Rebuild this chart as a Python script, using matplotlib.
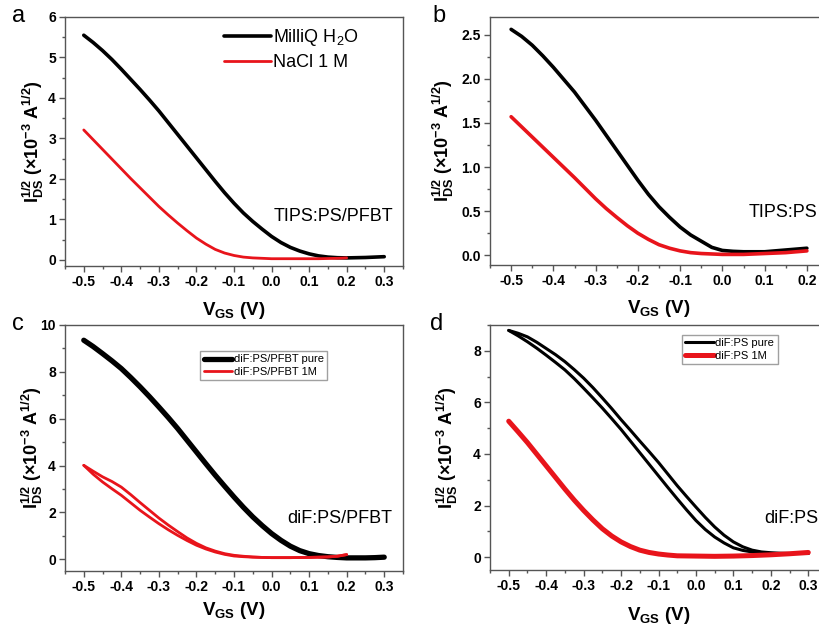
import matplotlib
matplotlib.use("Agg")
import matplotlib.pyplot as plt
import numpy as np
from matplotlib.ticker import MultipleLocator

# ---- data (V_GS in V, sqrt(I_DS) in 1e-3 A^1/2) ----
# gate sweeps in 25 mV steps
vgs_03 = np.round(np.arange(-0.5, 0.3001, 0.025), 3)   # -0.5 ... 0.3
vgs_02 = np.round(np.arange(-0.5, 0.2001, 0.025), 3)   # -0.5 ... 0.2

a_water = [5.55, 5.37, 5.17, 4.95, 4.71, 4.46, 4.21, 3.95, 3.68, 3.39,
           3.10, 2.81, 2.52, 2.23, 1.94, 1.66, 1.40, 1.16, 0.95, 0.76,
           0.58, 0.43, 0.31, 0.22, 0.15, 0.10, 0.07, 0.055, 0.05, 0.055,
           0.06, 0.07, 0.08]
a_nacl = [3.21, 2.97, 2.73, 2.49, 2.25, 2.01, 1.78, 1.55, 1.32, 1.11,
          0.91, 0.72, 0.54, 0.39, 0.26, 0.17, 0.11, 0.07, 0.05, 0.04,
          0.03, 0.03, 0.03, 0.03, 0.03, 0.03, 0.035, 0.04, 0.05]

b_water = [2.56, 2.48, 2.38, 2.26, 2.13, 1.99, 1.85, 1.69, 1.53, 1.36,
           1.19, 1.02, 0.85, 0.69, 0.55, 0.43, 0.32, 0.23, 0.16, 0.09,
           0.055, 0.045, 0.04, 0.04, 0.04, 0.05, 0.06, 0.07, 0.08]
b_nacl = [1.57, 1.455, 1.34, 1.225, 1.11, 0.995, 0.88, 0.76, 0.64, 0.53,
          0.43, 0.335, 0.25, 0.18, 0.12, 0.08, 0.05, 0.03, 0.02, 0.015,
          0.01, 0.01, 0.01, 0.015, 0.02, 0.025, 0.03, 0.04, 0.05]

c_pure = [9.35, 9.08, 8.78, 8.47, 8.14, 7.76, 7.36, 6.94, 6.50, 6.05,
          5.58, 5.08, 4.58, 4.08, 3.59, 3.12, 2.66, 2.22, 1.81, 1.44,
          1.10, 0.81, 0.56, 0.37, 0.24, 0.16, 0.11, 0.08, 0.06, 0.06,
          0.06, 0.07, 0.09]
c_1m_fwd = [4.01, 3.76, 3.52, 3.32, 3.08, 2.76, 2.42, 2.09, 1.76, 1.46,
            1.18, 0.91, 0.68, 0.49, 0.35, 0.24, 0.17, 0.13, 0.10, 0.08,
            0.07, 0.07, 0.07, 0.075, 0.08, 0.09, 0.10, 0.13, 0.20]
c_1m_rev = [4.01, 3.63, 3.30, 3.01, 2.73, 2.41, 2.09, 1.80, 1.52, 1.26,
            1.02, 0.80, 0.60, 0.44, 0.31, 0.21, 0.14, 0.11, 0.09, 0.08,
            0.07, 0.07, 0.07, 0.075, 0.08, 0.09, 0.10, 0.13, 0.20]

d_pure_fwd = [8.79, 8.68, 8.54, 8.33, 8.09, 7.85, 7.58, 7.27, 6.94, 6.57,
              6.17, 5.76, 5.33, 4.92, 4.50, 4.09, 3.67, 3.22, 2.77, 2.35,
              1.94, 1.54, 1.17, 0.85, 0.59, 0.40, 0.27, 0.20, 0.17, 0.15,
              0.14, 0.14, 0.14]
d_pure_rev = [8.79, 8.58, 8.35, 8.10, 7.83, 7.55, 7.26, 6.92, 6.55, 6.17,
              5.78, 5.37, 4.95, 4.50, 4.05, 3.60, 3.15, 2.70, 2.26, 1.83,
              1.42, 1.07, 0.78, 0.55, 0.36, 0.26, 0.20, 0.16, 0.14, 0.14,
              0.14, 0.14, 0.14]
d_1m = [5.27, 4.86, 4.44, 3.99, 3.54, 3.09, 2.64, 2.21, 1.81, 1.44,
        1.10, 0.82, 0.59, 0.41, 0.27, 0.18, 0.12, 0.08, 0.05, 0.045,
        0.04, 0.035, 0.03, 0.035, 0.04, 0.05, 0.06, 0.075, 0.09, 0.11,
        0.13, 0.155, 0.18]

RED = '#e8141b'
SPINE = '#555555'

plt.rcParams.update({
    'font.family': ['Liberation Sans', 'DejaVu Sans'],
    'mathtext.fontset': 'custom',
    'mathtext.rm': 'Liberation Sans',
    'mathtext.bf': 'Liberation Sans:bold',
    'mathtext.it': 'Liberation Sans:italic',
    'mathtext.default': 'rm',
})

W, H = 819, 635
fig = plt.figure(figsize=(W / 100, H / 100), dpi=100)


def make_axes(left, top, right, bottom):
    return fig.add_axes([left / W, 1 - bottom / H, (right - left) / W, (bottom - top) / H])


def style(ax, xlim, ylim, ymajor, yminor, xticks, yfmt):
    ax.set_xlim(*xlim)
    ax.set_ylim(*ylim)
    ax.set_xticks(xticks)
    ax.set_xticklabels([f'{t:.1f}' for t in xticks])
    ax.xaxis.set_minor_locator(MultipleLocator(0.05))
    ax.yaxis.set_major_locator(MultipleLocator(ymajor))
    ax.yaxis.set_minor_locator(MultipleLocator(yminor))
    ax.yaxis.set_major_formatter(plt.FuncFormatter(lambda v, p: yfmt.format(v)))
    for s in ax.spines.values():
        s.set_color(SPINE)
        s.set_linewidth(1.0)
    ax.tick_params(which='both', direction='out', color=SPINE, width=1.0)
    ax.tick_params(which='major', length=4.5, pad=2, labelsize=10)
    ax.tick_params(which='minor', length=2.5)
    for lab in ax.get_xticklabels() + ax.get_yticklabels():
        lab.set_fontweight('bold')
    ax.set_xlabel(r'V$_{\mathbf{GS}}$ (V)', fontsize=13.5, fontweight='bold')
    ax.set_ylabel(r'$\mathbf{I}_{\mathbf{DS}}^{\mathbf{1/2}}$ (×10$^{\mathbf{-3}}$ A$^{\mathbf{1/2}}$)',
                  fontsize=13, fontweight='bold')


xt7 = [-0.5, -0.4, -0.3, -0.2, -0.1, 0.0, 0.1, 0.2]
xt9 = xt7 + [0.3]

# panel a
ax_a = make_axes(65, 17, 403, 266)
ax_a.plot(vgs_03, a_water, color='black', lw=2.6, label=r'MilliQ H$_2$O', solid_capstyle='round')
ax_a.plot(vgs_02, a_nacl, color=RED, lw=2.0, label='NaCl 1 M', solid_capstyle='round')
style(ax_a, (-0.55, 0.35), (-0.15, 6.0), 1, 0.5, xt9, '{:.0f}')
ax_a.legend(loc='upper left', bbox_to_anchor=(0.46, 0.975), frameon=False, fontsize=13,
            handlelength=2.6, handletextpad=0.1, labelspacing=0.35, borderpad=0.2, borderaxespad=0)
ax_a.text(0.97, 0.197, 'TIPS:PS/PFBT', transform=ax_a.transAxes, ha='right', va='center', fontsize=13)
ax_a.yaxis.set_label_coords(-0.055, 0.5)
ax_a.xaxis.set_label_coords(0.5, -0.135)

# panel b
ax_b = make_axes(490, 17, 828, 265)
ax_b.plot(vgs_02, b_water, color='black', lw=2.6, solid_capstyle='round')
ax_b.plot(vgs_02, b_nacl, color=RED, lw=2.6, solid_capstyle='round')
style(ax_b, (-0.55, 0.25), (-0.11, 2.7), 0.5, 0.25, xt7, '{:.1f}')
ax_b.text(0.97, 0.21, 'TIPS:PS', transform=ax_b.transAxes, ha='right', va='center', fontsize=13)
ax_b.yaxis.set_label_coords(-0.10, 0.5)
ax_b.xaxis.set_label_coords(0.5, -0.135)

# panel c
ax_c = make_axes(65, 325, 403, 571)
ax_c.plot(vgs_03, c_pure, color='black', lw=3.8, label='diF:PS/PFBT pure', solid_capstyle='round')
ax_c.plot(vgs_02, c_1m_fwd, color=RED, lw=2.0, label='diF:PS/PFBT 1M', solid_capstyle='round')
ax_c.plot(vgs_02, c_1m_rev, color=RED, lw=2.0, solid_capstyle='round')
style(ax_c, (-0.55, 0.35), (-0.5, 10.0), 2, 1, xt9, '{:.0f}')
leg_c = ax_c.legend(loc='upper left', bbox_to_anchor=(0.40, 0.894), fontsize=8, fancybox=False,
                    edgecolor='#888888', handlelength=2.6, handletextpad=0.1, labelspacing=0.2,
                    borderpad=0.3, borderaxespad=0)
leg_c.get_frame().set_linewidth(1.0)
ax_c.text(0.967, 0.215, 'diF:PS/PFBT', transform=ax_c.transAxes, ha='right', va='center', fontsize=13)
ax_c.yaxis.set_label_coords(-0.06, 0.5)
ax_c.xaxis.set_label_coords(0.5, -0.118)

# panel d
ax_d = make_axes(490, 325, 827, 570)
ax_d.plot(vgs_03, d_pure_fwd, color='black', lw=2.2, label='diF:PS pure', solid_capstyle='round')
ax_d.plot(vgs_03, d_pure_rev, color='black', lw=2.2, solid_capstyle='round')
ax_d.plot(vgs_03, d_1m, color=RED, lw=3.6, label='diF:PS 1M', solid_capstyle='round')
style(ax_d, (-0.55, 0.35), (-0.5, 9.0), 2, 1, xt9, '{:.0f}')
leg_d = ax_d.legend(loc='upper left', bbox_to_anchor=(0.57, 0.959), fontsize=8, fancybox=False,
                    edgecolor='#888888', handlelength=2.6, handletextpad=0.1, labelspacing=0.2,
                    borderpad=0.3, borderaxespad=0)
leg_d.get_frame().set_linewidth(1.0)
ax_d.text(0.973, 0.212, 'diF:PS', transform=ax_d.transAxes, ha='right', va='center', fontsize=13)
ax_d.yaxis.set_label_coords(-0.09, 0.5)
ax_d.xaxis.set_label_coords(0.5, -0.143)

# panel letters
for letter, x, y in [('a', 12, 22), ('b', 432, 22), ('c', 12, 330), ('d', 430, 330)]:
    fig.text(x / W, 1 - y / H, letter, fontsize=17, ha='left', va='baseline')

fig.savefig('out.png', dpi=100, facecolor='white')
